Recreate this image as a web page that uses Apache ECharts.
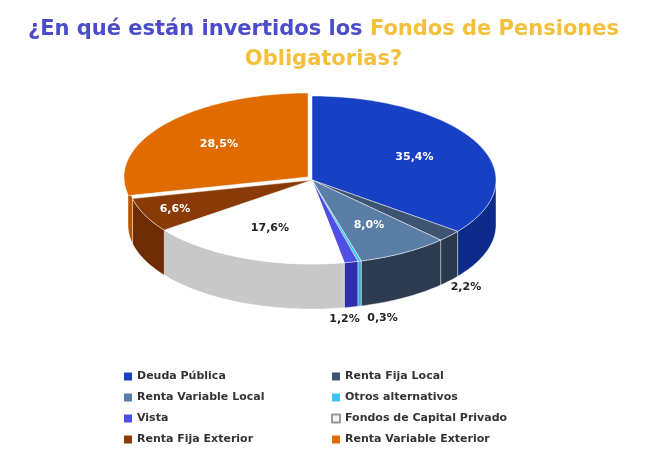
<!DOCTYPE html>
<html lang="es">
<head>
<meta charset="UTF-8" />
<title>Fondos de Pensiones Obligatorias</title>
<script src="https://cdn.jsdelivr.net/npm/echarts@6/dist/echarts.min.js"></script>
<style>
  html, body { margin: 0; padding: 0; background: #fff; }
  #main { width: 647px; height: 463px; }
</style>
</head>
<body>
<div id="main"></div>
<script>
  // slices clockwise from 12 o'clock
  const categories = ['Deuda Pública', 'Renta Fija Local', 'Renta Variable Local', 'Otros alternativos',
    'Vista', 'Fondos de Capital Privado', 'Renta Fija Exterior', 'Renta Variable Exterior'];
  const values = [35.4, 2.2, 8.0, 0.3, 1.2, 17.6, 6.6, 28.5];
  const topColors = ['#1740c4', '#3d5472', '#5b7ea6', '#3cc3f2', '#4f4fe6', '#ffffff', '#8a3a06', '#e06b00'];
  const sideColors = ['#0c2a8a', '#2a3a4e', '#2c3b4f', '#3aa8d8', '#2e2ea8', '#c8c8c8', '#6e2c02', '#b85500'];
  const labelColors = ['#fff', '#222', '#fff', '#222', '#222', '#222', '#fff', '#fff'];
  const outside = [false, true, false, true, true, false, false, false];
  const leftLegend = ['Deuda Pública', 'Renta Variable Local', 'Vista', 'Renta Fija Exterior'];
  const rightLegend = ['Renta Fija Local', 'Otros alternativos', 'Fondos de Capital Privado', 'Renta Variable Exterior'];

  const cx = 312, cy = 180, rx = 184, ry = 84, depth = 45;
  const total = values.reduce((a, b) => a + b, 0);
  const fmt = v => v.toFixed(1).replace('.', ',') + '%';
  const font = '"DejaVu Sans", sans-serif';

  function pt(a, k, dy) {
    return [cx + rx * k * Math.cos(a), cy + ry * k * Math.sin(a) + (dy || 0)];
  }

  function renderItem(params, api) {
    const sides = [], tops = [], labels = [];
    let start = -Math.PI / 2;
    for (let i = 0; i < values.length; i++) {
      const sweep = values[i] / total * Math.PI * 2;
      const a0 = start, a1 = start + sweep;
      start = a1;
      const off = i === values.length - 1 ? [-4, -3] : [0, 0];
      const poly = [[cx + off[0], cy + off[1]]];
      const n = Math.max(4, Math.ceil(sweep * 40));
      for (let j = 0; j <= n; j++) {
        const p = pt(a0 + sweep * j / n, 1);
        poly.push([p[0] + off[0], p[1] + off[1]]);
      }
      tops.push({ type: 'polygon', shape: { points: poly },
        style: { fill: topColors[i], stroke: 'rgba(255,255,255,0.6)', lineWidth: 0.8 } });
      // front wall
      [[0, Math.PI], [2 * Math.PI, 3 * Math.PI]].forEach(r => {
        const s = Math.max(a0, r[0]), e = Math.min(a1, r[1]);
        if (e <= s) return;
        const up = [], down = [];
        const m = Math.max(3, Math.ceil((e - s) * 40));
        for (let j = 0; j <= m; j++) {
          const a = s + (e - s) * j / m;
          up.push(pt(a, 1));
          down.unshift(pt(a, 1, depth));
        }
        sides.push({ type: 'polygon', shape: { points: up.concat(down) },
          style: { fill: sideColors[i], stroke: 'rgba(255,255,255,0.5)', lineWidth: 0.8 } });
      });
      const mid = (a0 + a1) / 2;
      let lp, align = 'center';
      if (outside[i]) {
        lp = [cx + rx * 1.12 * Math.cos(mid), cy + ry * Math.sin(mid) + depth + 12];
        if (i === 1) lp[1] -= 6;
        if (i === 4) { align = 'right'; lp[0] += 4; }
        if (i === 3) { align = 'left'; lp[0] += 2; }
      } else {
        lp = pt(mid, i === 6 ? 0.82 : 0.62);
        lp[0] += off[0]; lp[1] += off[1];
      }
      labels.push({ type: 'text', x: lp[0], y: lp[1],
        style: { text: fmt(values[i]), fill: labelColors[i], font: 'bold 11px ' + font,
          textAlign: align, textVerticalAlign: 'middle' } });
    }
    return { type: 'group', children: sides.concat(tops, labels) };
  }

  const legendBase = {
    orient: 'vertical', icon: 'rect', itemWidth: 8, itemHeight: 8, itemGap: 10, height: 120,
    selectedMode: false,
    textStyle: { color: '#333', fontWeight: 'bold', fontSize: 11, fontFamily: font }
  };

  const chart = echarts.init(document.getElementById('main'));
  chart.setOption({
    backgroundColor: '#fff',
    title: {
      left: 'center', top: 10,
      text: '{b|¿En qué están invertidos los }{y|Fondos de Pensiones}\n{y|Obligatorias?}',
      textStyle: {
        rich: {
          b: { color: '#4a4cc9', fontSize: 21, fontWeight: 'bold', fontFamily: font, lineHeight: 30 },
          y: { color: '#f4bf3a', fontSize: 21, fontWeight: 'bold', fontFamily: font, lineHeight: 30 }
        }
      }
    },
    legend: [
      Object.assign({ left: 118, top: 366, data: leftLegend }, legendBase),
      Object.assign({ left: 326, top: 366, data: rightLegend }, legendBase)
    ],
    series: [
      {
        type: 'pie', radius: [0, 0], center: [-100, -100], silent: true,
        label: { show: false }, labelLine: { show: false },
        data: categories.map((c, i) => ({ name: c, value: values[i],
          itemStyle: { color: i === 5 ? '#f2f2f2' : topColors[i], borderColor: i === 5 ? '#999' : 'transparent', borderWidth: 1 } }))
      },
      {
        type: 'custom', coordinateSystem: 'none', silent: true,
        data: [0], renderItem: renderItem
      }
    ]
  });
</script>
</body>
</html>
